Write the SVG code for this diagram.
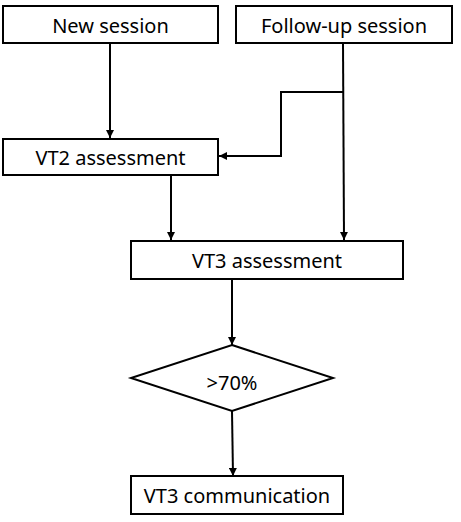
<svg xmlns="http://www.w3.org/2000/svg" width="461" height="522" viewBox="0 0 461 522">
<style>
.box{fill:#fff;stroke:#000;stroke-width:2}
.lbl{font-family:"Noto Sans","Open Sans",sans-serif;font-size:20px;fill:#000;text-anchor:middle;dominant-baseline:central}
.con{fill:none;stroke:#000;stroke-width:2}
</style>
<defs>
<marker id="ah" viewBox="0 0 10 10" refX="10" refY="5" markerWidth="4" markerHeight="4" orient="auto" markerUnits="strokeWidth">
<path d="M0,0 L10,5 L0,10 z" fill="#000"/>
</marker>
</defs>
<rect width="461" height="522" fill="#fff"/>
<g id="connectors">
<path class="con" d="M110,43 L110,138" marker-end="url(#ah)"/>
<path class="con" d="M343,43 L344,240" marker-end="url(#ah)"/>
<path class="con" d="M343,92 L281,92 L281,156 L219,156" marker-end="url(#ah)"/>
<path class="con" d="M171,175 L171,240" marker-end="url(#ah)"/>
<path class="con" d="M232,279 L232,345" marker-end="url(#ah)"/>
<path class="con" d="M232,411 L233,476" marker-end="url(#ah)"/>
</g>
<g id="new-session">
<rect class="box" x="3" y="6" width="215" height="37"/>
<text class="lbl" x="110.5" y="25">New session</text>
</g>
<g id="follow-up-session">
<rect class="box" x="236" y="6" width="216" height="37"/>
<text class="lbl" x="344" y="25">Follow-up session</text>
</g>
<g id="vt2-assessment">
<rect class="box" x="3" y="139" width="215" height="36"/>
<text class="lbl" x="110.5" y="157">VT2 assessment</text>
</g>
<g id="vt3-assessment">
<rect class="box" x="131" y="241" width="272" height="38"/>
<text class="lbl" x="267" y="260">VT3 assessment</text>
</g>
<g id="threshold">
<polygon class="box" points="232,345 333,378 232,411 131,378"/>
<text class="lbl" x="232" y="382">&gt;70%</text>
</g>
<g id="vt3-communication">
<rect class="box" x="131" y="476" width="212" height="38"/>
<text class="lbl" x="237" y="495">VT3 communication</text>
</g>
</svg>
